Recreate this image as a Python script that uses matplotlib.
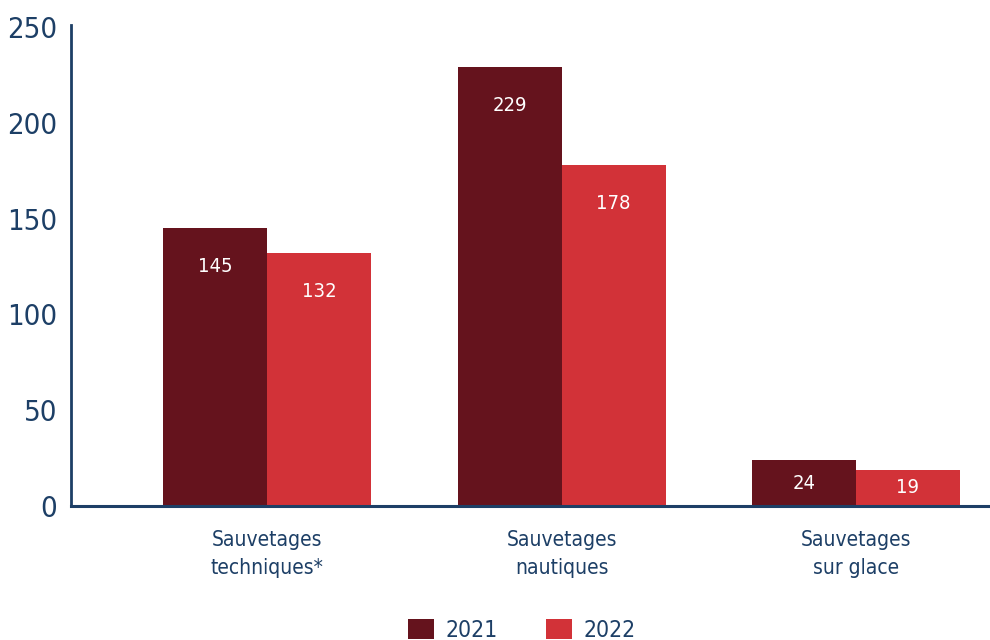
import matplotlib.pyplot as plt
import numpy as np

plt.rcParams['font.family'] = ['DejaVu Sans']
plt.rcParams['font.stretch'] = 'condensed'

categories = ['Sauvetages\ntechniques*', 'Sauvetages\nnautiques', 'Sauvetages\nsur glace']
years = ['2021', '2022']
vals_2021 = [145, 229, 24]
vals_2022 = [132, 178, 19]

navy = '#1d3f66'
colors = ['#65131d', '#d23238']

fig = plt.figure(figsize=(9.9, 6.4), dpi=100)
ax = fig.add_axes([71 / 990, 1 - 506 / 640, 1 - 71 / 990, (506 - 25) / 640])

x = np.arange(len(categories))
w = 0.353
for i, (vals, lab) in enumerate(zip([vals_2021, vals_2022], years)):
    pos = x + (i - 0.5) * w
    ax.bar(pos, vals, w, color=colors[i], label=lab)
    for p, v in zip(pos, vals):
        off = min(20, v / 2)
        ax.text(p, v - off, str(v), ha='center', va='center', color='white', fontsize=14.5)

ax.set_xlim(-0.666, 2.455)
ax.set_ylim(0, 251)
ax.set_yticks([0, 50, 100, 150, 200, 250])
ax.set_xticks(x)
ax.set_xticklabels(categories, fontsize=15, color=navy, linespacing=1.5)
ax.tick_params(axis='y', length=0, labelsize=21, labelcolor=navy, pad=10)
ax.tick_params(axis='x', length=0, pad=17)
for s in ['top', 'right']:
    ax.spines[s].set_visible(False)
ax.spines['left'].set_color(navy)
ax.spines['bottom'].set_color(navy)
ax.spines['left'].set_linewidth(2)
ax.spines['bottom'].set_linewidth(2.2)

leg = fig.legend(loc='lower center', bbox_to_anchor=(0.527, -0.035), ncol=2, frameon=False,
                 fontsize=16.5, handlelength=1.15, handleheight=0.95, columnspacing=2.1, handletextpad=0.5)
for t in leg.get_texts():
    t.set_color(navy)

fig.savefig('out.png', dpi=100)
